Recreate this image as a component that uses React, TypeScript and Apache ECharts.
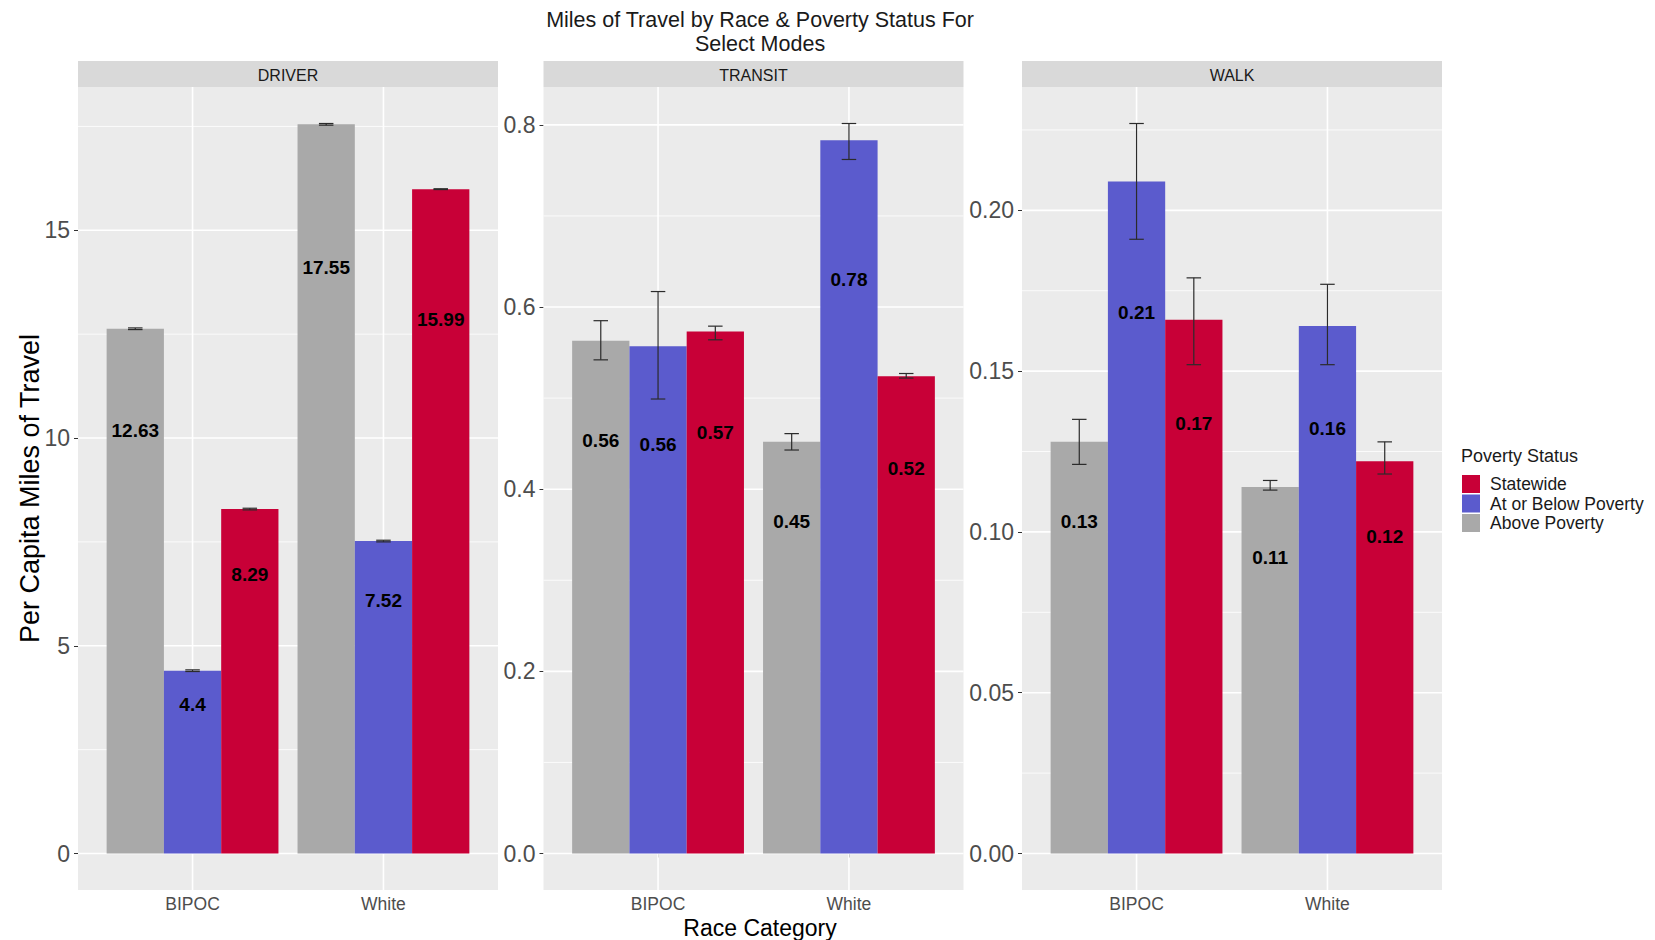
import React, { useEffect, useRef } from "react";
import * as echarts from "echarts";

// ---- data ----
const races = ["BIPOC", "White"];
const panelNames = ["DRIVER", "TRANSIT", "WALK"];
// dodge order, left to right inside each race group
const statusNames = ["Above Poverty", "At or Below Poverty", "Statewide"];
const legendOrder = ["Statewide", "At or Below Poverty", "Above Poverty"];
const statusColors = ["#A9A9A9", "#5B5BCD", "#C80037"];

// per-capita miles, [BIPOC, White]
const driverAbove = [12.63, 17.55];
const driverBelow = [4.4, 7.52];
const driverStatewide = [8.29, 15.99];
const driverAboveCI = [[12.61, 12.65], [17.53, 17.57]];
const driverBelowCI = [[4.38, 4.42], [7.5, 7.54]];
const driverStatewideCI = [[8.27, 8.31], [15.98, 16.0]];

const transitAbove = [0.563, 0.452];
const transitBelow = [0.557, 0.783];
const transitStatewide = [0.573, 0.524];
const transitAboveCI = [[0.542, 0.585], [0.443, 0.461]];
const transitBelowCI = [[0.499, 0.617], [0.762, 0.8015]];
const transitStatewideCI = [[0.564, 0.579], [0.522, 0.527]];

const walkAbove = [0.128, 0.114];
const walkBelow = [0.209, 0.164];
const walkStatewide = [0.166, 0.122];
const walkAboveCI = [[0.121, 0.135], [0.113, 0.116]];
const walkBelowCI = [[0.191, 0.227], [0.152, 0.177]];
const walkStatewideCI = [[0.152, 0.179], [0.118, 0.128]];

// axis ticks per panel
const driverMajor = [0, 5, 10, 15];
const driverMinor = [2.5, 7.5, 12.5, 17.5];
const transitMajor = [0, 0.2, 0.4, 0.6, 0.8];
const transitMinor = [0.1, 0.3, 0.5, 0.7];
const walkMajor = [0, 0.05, 0.1, 0.15, 0.2];
const walkMinor = [0.025, 0.075, 0.125, 0.175, 0.225];
const tickDecimals = [0, 1, 2];

const panelValues = [
  [driverAbove, driverBelow, driverStatewide],
  [transitAbove, transitBelow, transitStatewide],
  [walkAbove, walkBelow, walkStatewide],
];
const panelCI = [
  [driverAboveCI, driverBelowCI, driverStatewideCI],
  [transitAboveCI, transitBelowCI, transitStatewideCI],
  [walkAboveCI, walkBelowCI, walkStatewideCI],
];
const panelMajor = [driverMajor, transitMajor, walkMajor];
const panelMinor = [driverMinor, transitMinor, walkMinor];

// ---- layout ----
const FONT = "'Liberation Sans', Arial, Helvetica, sans-serif";
const panelLefts = [78, 543.5, 1022];
const panelWidth = 420;
const panelTop = 87;
const panelHeight = 803;
const stripTop = 61;
const stripHeight = 26;
const unit = panelWidth / 2.2; // one discrete step on the x scale

const fmtValue = (v: number) => String(Math.round(v * 100) / 100);

function buildOption() {
  const grids: any[] = [];
  const xAxes: any[] = [];
  const yAxes: any[] = [];
  const series: any[] = [];
  const graphics: any[] = [];

  panelNames.forEach((panel, p) => {
    const left = panelLefts[p];
    // y limits: 5% padding beyond 0 and the top of the highest whisker
    let top = 0;
    panelCI[p].forEach((ci) => ci.forEach((pair) => (top = Math.max(top, pair[1]))));
    const lo = -0.05 * top;
    const hi = top * 1.05;

    graphics.push({
      type: "rect",
      z: 0,
      shape: { x: left, y: panelTop, width: panelWidth, height: panelHeight },
      style: { fill: "#EBEBEB" },
      silent: true,
    });
    graphics.push({
      type: "rect",
      z: 0,
      shape: { x: left, y: stripTop, width: panelWidth, height: stripHeight },
      style: { fill: "#D9D9D9" },
      silent: true,
    });
    graphics.push({
      type: "text",
      z: 1,
      x: left + panelWidth / 2,
      y: stripTop + stripHeight / 2 + 1,
      style: {
        text: panel,
        fill: "#1A1A1A",
        fontSize: 16,
        fontFamily: FONT,
        align: "center",
        verticalAlign: "middle",
      },
      silent: true,
    });

    grids.push({
      left: left + 0.1 * unit,
      width: 2 * unit,
      top: panelTop,
      height: panelHeight,
    });

    xAxes.push({
      type: "category",
      gridIndex: p,
      data: races,
      axisLine: { show: false },
      axisTick: { show: true, alignWithLabel: true, length: 4, lineStyle: { color: "#333333", width: 1 } },
      axisLabel: { color: "#4D4D4D", fontSize: 17.5, fontFamily: FONT, margin: 5 },
      splitLine: { show: false },
    });

    const dec = tickDecimals[p];
    yAxes.push({
      type: "value",
      gridIndex: p,
      min: lo,
      max: hi,
      offset: 0.1 * unit,
      axisLine: { show: false },
      axisTick: {
        show: true,
        length: 4,
        customValues: panelMajor[p],
        lineStyle: { color: "#333333", width: 1 },
      },
      axisLabel: {
        customValues: panelMajor[p],
        formatter: (v: number) => v.toFixed(dec),
        color: "#4D4D4D",
        fontSize: 23,
        fontFamily: FONT,
        margin: 8,
      },
      splitLine: { show: false },
    });

    // horizontal grid lines (major and minor), spanning the whole panel
    const gridData = [
      ...panelMajor[p].map((v) => [0, v, 1]),
      ...panelMinor[p].map((v) => [0, v, 0]),
    ];
    series.push({
      type: "custom",
      xAxisIndex: p,
      yAxisIndex: p,
      z: 1,
      silent: true,
      data: gridData,
      renderItem: (params: any, api: any) => {
        const pt = api.coord([0, api.value(1)]);
        const band = api.size([1, 0])[0];
        return {
          type: "line",
          shape: { x1: pt[0] - 0.6 * band, y1: pt[1], x2: pt[0] + 1.6 * band, y2: pt[1] },
          style: { stroke: "#FFFFFF", lineWidth: api.value(2) ? 1.6 : 0.8 },
        };
      },
    });
    // vertical grid lines at each race
    series.push({
      type: "custom",
      xAxisIndex: p,
      yAxisIndex: p,
      z: 1,
      silent: true,
      data: races.map((_, i) => [i, lo, hi]),
      renderItem: (params: any, api: any) => {
        const a = api.coord([api.value(0), api.value(1)]);
        const b = api.coord([api.value(0), api.value(2)]);
        return {
          type: "line",
          shape: { x1: a[0], y1: a[1], x2: b[0], y2: b[1] },
          style: { stroke: "#FFFFFF", lineWidth: 1.6 },
        };
      },
    });

    // bars, value label placed at 80% of the bar height
    statusNames.forEach((name, s) => {
      series.push({
        type: "bar",
        name,
        xAxisIndex: p,
        yAxisIndex: p,
        z: 2,
        data: panelValues[p][s],
        barWidth: "30%",
        barGap: "0%",
        itemStyle: { color: statusColors[s] },
        label: {
          show: true,
          position: ["50%", "20%"],
          offset: [0, -3],
          align: "center",
          verticalAlign: "middle",
          formatter: (d: any) => fmtValue(d.value),
          color: "#000000",
          fontWeight: "bold",
          fontSize: 19,
          fontFamily: FONT,
        },
      });
    });

    // error bars
    const errData: number[][] = [];
    statusNames.forEach((_, s) => {
      panelCI[p][s].forEach((pair, r) => errData.push([r, pair[0], pair[1], s]));
    });
    series.push({
      type: "custom",
      xAxisIndex: p,
      yAxisIndex: p,
      z: 3,
      silent: true,
      data: errData,
      renderItem: (params: any, api: any) => {
        const r = api.value(0);
        const s = api.value(3);
        const band = api.size([1, 0])[0];
        const a = api.coord([r, api.value(1)]);
        const b = api.coord([r, api.value(2)]);
        const x = a[0] + (s - 1) * 0.3 * band;
        const h = 0.038 * band;
        const style = { stroke: "#2B2B2B", lineWidth: 1.2 };
        return {
          type: "group",
          children: [
            { type: "line", shape: { x1: x, y1: a[1], x2: x, y2: b[1] }, style },
            { type: "line", shape: { x1: x - h, y1: a[1], x2: x + h, y2: a[1] }, style },
            { type: "line", shape: { x1: x - h, y1: b[1], x2: x + h, y2: b[1] }, style },
          ],
        };
      },
    });
  });

  const centerX = (panelLefts[0] + panelLefts[2] + panelWidth) / 2;
  graphics.push({
    type: "text",
    z: 1,
    x: centerX,
    y: 8,
    style: {
      text: "Miles of Travel by Race & Poverty Status For\nSelect Modes",
      fill: "#1A1A1A",
      fontSize: 21.5,
      lineHeight: 24,
      fontFamily: FONT,
      align: "center",
      verticalAlign: "top",
    },
    silent: true,
  });
  graphics.push({
    type: "text",
    z: 1,
    x: centerX,
    y: 928,
    style: {
      text: "Race Category",
      fill: "#000000",
      fontSize: 23,
      fontFamily: FONT,
      align: "center",
      verticalAlign: "middle",
    },
    silent: true,
  });
  graphics.push({
    type: "text",
    z: 1,
    x: 30,
    y: panelTop + panelHeight / 2,
    rotation: Math.PI / 2,
    style: {
      text: "Per Capita Miles of Travel",
      fill: "#000000",
      fontSize: 27,
      fontFamily: FONT,
      align: "center",
      verticalAlign: "middle",
    },
    silent: true,
  });
  graphics.push({
    type: "text",
    z: 1,
    x: 1461,
    y: 456,
    style: {
      text: "Poverty Status",
      fill: "#1A1A1A",
      fontSize: 18,
      fontFamily: FONT,
      align: "left",
      verticalAlign: "middle",
    },
    silent: true,
  });

  return {
    animation: false,
    backgroundColor: "#FFFFFF",
    textStyle: { fontFamily: FONT },
    grid: grids,
    xAxis: xAxes,
    yAxis: yAxes,
    legend: {
      data: legendOrder,
      orient: "vertical",
      left: 1462,
      top: 475,
      padding: 0,
      itemWidth: 18,
      itemHeight: 18,
      itemGap: 1.5,
      icon: "rect",
      selectedMode: false,
      textStyle: { fontSize: 17.5, color: "#1A1A1A", fontFamily: FONT, padding: [0, 0, 0, 5] },
    },
    graphic: { elements: graphics },
    series,
  };
}

export default function App() {
  const ref = useRef<HTMLDivElement>(null);
  useEffect(() => {
    document.body.style.margin = "0";
    if (!ref.current) return;
    const chart = echarts.init(ref.current, undefined, { renderer: "svg" });
    chart.setOption(buildOption() as any);
    return () => chart.dispose();
  }, []);
  return <div ref={ref} style={{ width: 1655, height: 940, position: "absolute", left: 0, top: 0 }} />;
}
